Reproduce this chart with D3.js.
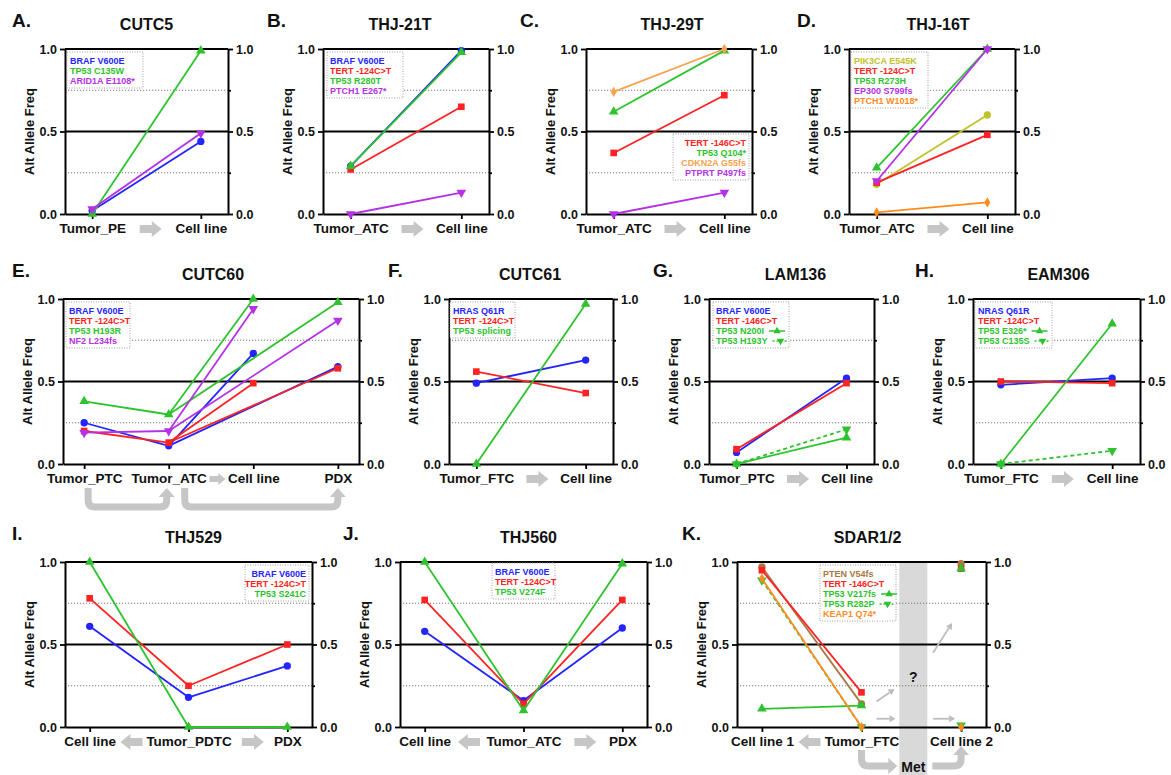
<!DOCTYPE html>
<html>
<head>
<meta charset="utf-8">
<script src="https://cdn.jsdelivr.net/npm/d3@7"></script>
<style>
  body { margin: 0; background: #fff; }
  svg text { font-family: Arial, "Liberation Sans", sans-serif; font-weight: bold; }
</style>
</head>
<body>
<svg id="fig" width="1171" height="775"></svg>
<script>
// ---------- data (allele frequencies) ----------
const catsA = ['Tumor_PE', 'Cell line'];
const mutsA = ['BRAF V600E', 'TP53 C135W', 'ARID1A E1108*'];
const vafA  = [[0.02, 0.44], [0.00, 0.99], [0.03, 0.49]];

const catsB = ['Tumor_ATC', 'Cell line'];
const mutsB = ['BRAF V600E', 'TERT -124C>T', 'TP53 R280T', 'PTCH1 E267*'];
const vafB  = [[0.29, 0.99], [0.27, 0.65], [0.29, 0.98], [0.00, 0.13]];

const catsC = ['Tumor_ATC', 'Cell line'];
const mutsC = ['TERT -146C>T', 'TP53 Q104*', 'CDKN2A  G55fs', 'PTPRT P497fs'];
const vafC  = [[0.37, 0.72], [0.62, 0.99], [0.74, 1.00], [0.00, 0.13]];

const catsD = ['Tumor_ATC', 'Cell line'];
const mutsD = ['PIK3CA  E545K', 'TERT -124C>T', 'TP53 R273H', 'EP300 S799fs', 'PTCH1 W1018*'];
const vafD  = [[0.18, 0.60], [0.19, 0.48], [0.28, 1.00], [0.20, 1.00], [0.01, 0.07]];

const catsE = ['Tumor_PTC', 'Tumor_ATC', 'Cell line', 'PDX'];
const mutsE = ['BRAF V600E', 'TERT -124C>T', 'TP53 H193R', 'NF2 L234fs'];
const vafE  = [[0.25, 0.11, 0.67, 0.59], [0.20, 0.13, 0.49, 0.58],
               [0.38, 0.30, 1.00, 0.98], [0.19, 0.20, 0.94, 0.87]];

const catsF = ['Tumor_FTC', 'Cell line'];
const mutsF = ['HRAS Q61R', 'TERT -124C>T', 'TP53 splicing'];
const vafF  = [[0.49, 0.63], [0.56, 0.43], [0.00, 0.97]];

const catsG = ['Tumor_PTC', 'Cell line'];
const mutsG = ['BRAF V600E', 'TERT -146C>T', 'TP53 N200I', 'TP53 H193Y'];
const vafG  = [[0.07, 0.52], [0.09, 0.49], [0.00, 0.16], [0.00, 0.21]];

const catsH = ['Tumor_FTC', 'Cell line'];
const mutsH = ['NRAS Q61R', 'TERT -124C>T', 'TP53 E326*', 'TP53 C135S'];
const vafH  = [[0.48, 0.52], [0.50, 0.49], [0.00, 0.85], [0.00, 0.08]];

const catsI = ['Cell line', 'Tumor_PDTC', 'PDX'];
const mutsI = ['BRAF V600E', 'TERT -124C>T', 'TP53 S241C'];
const vafI  = [[0.61, 0.18, 0.37], [0.78, 0.25, 0.50], [1.00, 0.00, 0.00]];

const catsJ = ['Cell line', 'Tumor_ATC', 'PDX'];
const mutsJ = ['BRAF V600E', 'TERT -124C>T', 'TP53 V274F'];
const vafJ  = [[0.58, 0.16, 0.60], [0.77, 0.14, 0.77], [1.00, 0.10, 0.99]];

const catsK = ['Cell line 1', 'Tumor_FTC', 'Cell line 2'];
const mutsK = ['PTEN V54fs', 'TERT -146C>T', 'TP53 V217fs', 'TP53 R282P', 'KEAP1 Q74*'];
const vafK  = [[0.97, 0.14, 0.99], [0.95, 0.21, 0.96], [0.11, 0.13, 0.96],
               [0.89, 0.00, 0.01], [0.90, 0.00, 0.00]];

const yTicks = [0, 0.5, 1];

// ---------- styles ----------
const STYLE = {
  blue:   { color: '#2424ff', shape: 'circle' },
  red:    { color: '#ff2222', shape: 'square' },
  green:  { color: '#2ec32e', shape: 'up' },
  greenD: { color: '#2ec32e', shape: 'down', dash: '4,3' },
  purple: { color: '#b431e6', shape: 'down' },
  orange: { color: '#ff8c1f', shape: 'diamond' },
  peach:  { color: '#f7a24e', shape: 'diamond' },
  olive:  { color: '#c2c22c', shape: 'circle' },
  brown:  { color: '#a9773f', shape: 'circle' }
};
const GRAY = '#c6c6c6';

const svg = d3.select('#fig');

function symbolPath(shape) {
  const types = { circle: d3.symbolCircle, square: d3.symbolSquare, up: d3.symbolTriangle,
                  down: d3.symbolTriangle, diamond: d3.symbolDiamond };
  const sizes = { circle: 42, square: 44, up: 40, down: 40, diamond: 30 };
  return d3.symbol().type(types[shape]).size(sizes[shape])();
}

function blockArrow(g, cx, cy, len, dir, s = 1) {
  const hl = len * 0.45, sh = 4 * s, hh = 8 * s;
  const a = -len / 2, b = len / 2;
  const pts = [[a, -sh], [b - hl, -sh], [b - hl, -hh], [b, 0], [b - hl, hh], [b - hl, sh], [a, sh]];
  g.append('polygon')
    .attr('points', pts.map(p => `${cx + dir * p[0]},${cy + p[1]}`).join(' '))
    .attr('fill', GRAY);
}

function thinArrow(g, xa, ya, xb, yb) {
  const ang = Math.atan2(yb - ya, xb - xa), h = 6, w = 3.5;
  const bx = xb - h * Math.cos(ang), by = yb - h * Math.sin(ang);
  g.append('line').attr('x1', xa).attr('y1', ya).attr('x2', bx).attr('y2', by)
    .attr('stroke', '#bdbdbd').attr('stroke-width', 1.8);
  g.append('polygon')
    .attr('points', `${xb},${yb} ${bx - w * Math.sin(ang)},${by + w * Math.cos(ang)} ${bx + w * Math.sin(ang)},${by - w * Math.cos(ang)}`)
    .attr('fill', '#bdbdbd');
}

// bracket going down from xa, across, and up into an arrowhead at xb
function bracket(g, xa, xb, yTop, yBot) {
  const r = 7;
  g.append('path')
    .attr('d', `M${xa},${yTop} V${yBot - r} Q${xa},${yBot} ${xa + r},${yBot} H${xb - r} Q${xb},${yBot} ${xb},${yBot - r} V${yTop + 8}`)
    .attr('fill', 'none').attr('stroke', GRAY).attr('stroke-width', 7);
  g.append('polygon')
    .attr('points', `${xb - 8},${yTop + 9} ${xb},${yTop} ${xb + 8},${yTop + 9}`)
    .attr('fill', GRAY);
}

function drawPanel(p) {
  const [x0, y0, x1, y1] = p.frame;
  const g = svg.append('g');
  const x = d3.scalePoint().domain(p.cats).range([x0, x1]).padding(0.25);
  const y = d3.scaleLinear().domain([0, 1]).range([y1, y0]);

  if (p.under) p.under(g, x, y);

  // reference lines
  g.selectAll(null).data([0.25, 0.75]).enter().append('line')
    .attr('x1', x0).attr('x2', x1).attr('y1', d => y(d)).attr('y2', d => y(d))
    .attr('stroke', '#7a7a7a').attr('stroke-width', 1).attr('stroke-dasharray', '1.2,1.8');
  g.selectAll(null).data([0.5, 1]).enter().append('line')
    .attr('x1', x0).attr('x2', x1).attr('y1', d => y(d)).attr('y2', d => y(d))
    .attr('stroke', '#000').attr('stroke-width', 1.8);

  // axes
  const fmt = d3.format('.1f');
  const styleAxis = (ax, size) => {
    ax.attr('font-family', 'Arial, "Liberation Sans", sans-serif').attr('font-size', size).attr('font-weight', 'bold');
    ax.select('.domain').attr('stroke', '#000').attr('stroke-width', 2);
    ax.selectAll('.tick line').attr('stroke', '#000').attr('stroke-width', 1.8);
    ax.selectAll('.tick text').attr('fill', '#111');
  };
  const yl = g.append('g').attr('transform', `translate(${x0},0)`)
    .call(d3.axisLeft(y).tickValues(yTicks).tickFormat(fmt).tickSize(5).tickSizeOuter(0).tickPadding(3));
  styleAxis(yl, 12.5);
  const yr = g.append('g').attr('transform', `translate(${x1},0)`)
    .call(d3.axisRight(y).tickValues([0, 0.25, 0.5, 0.75, 1])
      .tickFormat(d => yTicks.includes(d) ? fmt(d) : '').tickSize(5).tickSizeOuter(0).tickPadding(3));
  styleAxis(yr, 12.5);
  yr.selectAll('.tick').filter(d => !yTicks.includes(d)).select('line').attr('x2', 3);
  const xa = g.append('g').attr('transform', `translate(0,${y1})`)
    .call(d3.axisBottom(x).tickSize(5).tickSizeOuter(0).tickPadding(4));
  styleAxis(xa, 13.5);

  // axis title, panel title, letter
  g.append('text').attr('transform', `translate(${x0 - 31},${(y0 + y1) / 2}) rotate(-90)`)
    .attr('text-anchor', 'middle').attr('font-size', 13).attr('fill', '#111').text('Alt Allele Freq');
  g.append('text').attr('x', (x0 + x1) / 2 + (p.titleDx || 0)).attr('y', y0 - 19)
    .attr('text-anchor', 'middle').attr('font-size', 16).attr('fill', '#111').text(p.title);
  g.append('text').attr('x', p.letterX).attr('y', y0 - 22)
    .attr('font-size', 19).attr('fill', '#111').text(p.key + '.');

  // arrows between category labels
  const boxes = xa.selectAll('.tick text').nodes().map(n => n.getBoundingClientRect());
  (p.xArrows || []).forEach(a => {
    const r0 = boxes[a.a].right, r1 = boxes[a.b].left;
    const len = Math.min(a.len || 22, r1 - r0 - 3);
    blockArrow(g, (r0 + r1) / 2, y1 + 15, len, a.dir, a.s || 1);
  });

  // series
  const links = p.links || d3.range(p.cats.length - 1).map(i => [i, i + 1]);
  p.vals.forEach((v, si) => {
    const st = STYLE[p.styles[si]];
    const line = d3.line().x(i => x(p.cats[i])).y(i => y(v[i]));
    links.forEach(l => g.append('path').attr('d', line(l)).attr('fill', 'none')
      .attr('stroke', st.color).attr('stroke-width', 1.8).attr('stroke-dasharray', st.dash || null));
    g.selectAll(null).data(v).enter().append('path')
      .attr('d', symbolPath(st.shape))
      .attr('transform', (d, i) => `translate(${x(p.cats[i])},${y(d)})${st.shape === 'down' ? ' rotate(180)' : ''}`)
      .attr('fill', st.color);
  });

  // legend
  const L = p.legend, n = p.muts.length;
  g.append('rect').attr('x', L.x).attr('y', L.y).attr('width', L.w).attr('height', n * 10 + 6)
    .attr('fill', '#fff').attr('stroke', '#999').attr('stroke-width', 0.9).attr('stroke-dasharray', '1,1.5');
  p.muts.forEach((m, i) => {
    const st = STYLE[p.styles[i]];
    const ty = L.y + 12 + i * 10;
    const t = g.append('text')
      .attr('x', L.align === 'end' ? L.x + L.w - 3 : L.x + 3).attr('y', ty)
      .attr('text-anchor', L.align || 'start').attr('font-size', 9).attr('fill', st.color).text(m);
    if (p.samples && p.samples.includes(i)) {
      const ex = L.x + 3 + t.node().getComputedTextLength() + 5;
      g.append('line').attr('x1', ex).attr('x2', ex + 16).attr('y1', ty - 3).attr('y2', ty - 3)
        .attr('stroke', st.color).attr('stroke-width', 1.5).attr('stroke-dasharray', st.dash ? '2,2' : null);
      g.append('path').attr('d', d3.symbol().type(d3.symbolTriangle).size(24)())
        .attr('transform', `translate(${ex + 8},${ty - 3})${st.shape === 'down' ? ' rotate(180)' : ''}`)
        .attr('fill', st.color);
    }
  });

  if (p.over) p.over(g, x, y);
}

const PANELS = [
  { key: 'A', title: 'CUTC5', cats: catsA, muts: mutsA, vals: vafA, styles: ['blue', 'green', 'purple'],
    frame: [65, 49, 228, 214], letterX: 12, legend: { x: 67, y: 52, w: 76 },
    xArrows: [{ a: 0, b: 1, dir: 1 }] },
  { key: 'B', title: 'THJ-21T', cats: catsB, muts: mutsB, vals: vafB, styles: ['blue', 'red', 'green', 'purple'],
    frame: [323, 49, 489, 214], letterX: 267, titleDx: -6, legend: { x: 327, y: 52, w: 76 },
    xArrows: [{ a: 0, b: 1, dir: 1 }] },
  { key: 'C', title: 'THJ-29T', cats: catsC, muts: mutsC, vals: vafC, styles: ['red', 'green', 'peach', 'purple'],
    frame: [586, 49, 752, 214], letterX: 520, titleDx: 3, legend: { x: 673, y: 134, w: 76, align: 'end' },
    xArrows: [{ a: 0, b: 1, dir: 1 }] },
  { key: 'D', title: 'THJ-16T', cats: catsD, muts: mutsD, vals: vafD, styles: ['olive', 'red', 'green', 'purple', 'orange'],
    frame: [849, 49, 1015, 214], letterX: 797, titleDx: 6, legend: { x: 851, y: 52, w: 77 },
    xArrows: [{ a: 0, b: 1, dir: 1 }] },
  { key: 'E', title: 'CUTC60', cats: catsE, muts: mutsE, vals: vafE, styles: ['blue', 'red', 'green', 'purple'],
    frame: [63, 299, 359, 464], letterX: 12, titleDx: 2, legend: { x: 66, y: 302, w: 64 },
    links: [[0, 1], [1, 2], [1, 3]],
    xArrows: [{ a: 1, b: 2, dir: 1, len: 16, s: 0.75 }],
    over: (g, x) => {
      bracket(g, x('Tumor_PTC') + 4, x('Tumor_ATC') - 2, 488, 507);
      bracket(g, x('Tumor_ATC') + 16, x('PDX'), 488, 507);
    } },
  { key: 'F', title: 'CUTC61', cats: catsF, muts: mutsF, vals: vafF, styles: ['blue', 'red', 'green'],
    frame: [449, 299, 613, 464], letterX: 388, titleDx: -1, legend: { x: 450, y: 302, w: 65 },
    xArrows: [{ a: 0, b: 1, dir: 1 }] },
  { key: 'G', title: 'LAM136', cats: catsG, muts: mutsG, vals: vafG, styles: ['blue', 'red', 'green', 'greenD'],
    frame: [709, 299, 874, 464], letterX: 653, titleDx: 4, legend: { x: 713, y: 302, w: 76 }, samples: [2, 3],
    xArrows: [{ a: 0, b: 1, dir: 1 }] },
  { key: 'H', title: 'EAM306', cats: catsH, muts: mutsH, vals: vafH, styles: ['blue', 'red', 'green', 'greenD'],
    frame: [973, 299, 1140, 464], letterX: 915, titleDx: 2, legend: { x: 975, y: 302, w: 77 }, samples: [2, 3],
    xArrows: [{ a: 0, b: 1, dir: 1 }] },
  { key: 'I', title: 'THJ529', cats: catsI, muts: mutsI, vals: vafI, styles: ['blue', 'red', 'green'],
    frame: [65, 562, 312, 727], letterX: 12, titleDx: 5, legend: { x: 245, y: 565, w: 64, align: 'end' },
    xArrows: [{ a: 0, b: 1, dir: -1 }, { a: 1, b: 2, dir: 1 }] },
  { key: 'J', title: 'THJ560', cats: catsJ, muts: mutsJ, vals: vafJ, styles: ['blue', 'red', 'green'],
    frame: [400, 562, 647, 727], letterX: 343, titleDx: 5, legend: { x: 492, y: 563, w: 63 },
    xArrows: [{ a: 0, b: 1, dir: -1 }, { a: 1, b: 2, dir: 1 }] },
  { key: 'K', title: 'SDAR1/2', cats: catsK, muts: mutsK, vals: vafK, styles: ['brown', 'red', 'green', 'greenD', 'orange'],
    frame: [737, 562, 986, 727], letterX: 682, titleDx: 6, legend: { x: 820, y: 565, w: 76 }, samples: [2, 3],
    links: [[0, 1]],
    xArrows: [{ a: 0, b: 1, dir: -1 }],
    under: (g, x, y) => {
      const mid = (x('Tumor_FTC') + x('Cell line 2')) / 2 + 2;
      g.append('rect').attr('x', mid - 14).attr('y', y(1)).attr('width', 28).attr('height', 775 - y(1))
        .attr('fill', '#d9d9d9');
    },
    over: (g, x, y) => {
      const xt = x('Tumor_FTC'), xc = x('Cell line 2'), mid = (xt + xc) / 2 + 2;
      g.append('text').attr('x', mid).attr('y', y(0.27)).attr('text-anchor', 'middle')
        .attr('font-size', 14).attr('fill', '#111').text('?');
      thinArrow(g, xt + 15, y(0.155), xt + 33, y(0.23));
      thinArrow(g, xt + 15, y(0.05), xt + 34, y(0.05));
      thinArrow(g, xc - 28, y(0.05), xc - 6, y(0.05));
      thinArrow(g, xc - 28, y(0.45), xc - 9, y(0.63));
      // Met path below the axis
      const yb = 766, r = 7;
      g.append('path')
        .attr('d', `M${xt},750 V${yb - r} Q${xt},${yb} ${xt + r},${yb} H${mid - 24}`)
        .attr('fill', 'none').attr('stroke', GRAY).attr('stroke-width', 7);
      g.append('polygon').attr('points', `${mid - 25},${yb - 8} ${mid - 16},${yb} ${mid - 25},${yb + 8}`).attr('fill', GRAY);
      g.append('path')
        .attr('d', `M${mid + 19},${yb} H${xc - r} Q${xc},${yb} ${xc},${yb - r} V${754}`)
        .attr('fill', 'none').attr('stroke', GRAY).attr('stroke-width', 7);
      g.append('polygon').attr('points', `${xc - 8},${755} ${xc},${746} ${xc + 8},${755}`).attr('fill', GRAY);
      g.append('text').attr('x', mid).attr('y', 772).attr('text-anchor', 'middle')
        .attr('font-size', 14).attr('fill', '#111').text('Met');
    } }
];

PANELS.forEach(drawPanel);
</script>
</body>
</html>
